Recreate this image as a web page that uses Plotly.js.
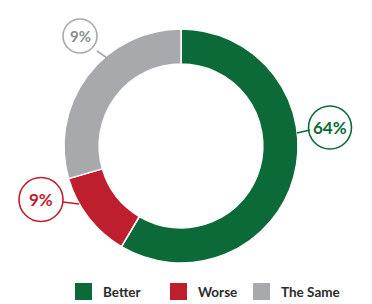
<!DOCTYPE html>
<html>
<head>
<meta charset="utf-8">
<script src="https://cdn.plot.ly/plotly-3.0.1.min.js"></script>
<style>html,body{margin:0;padding:0;background:#fff;}#chart{width:372px;height:304px;}</style>
</head>
<body>
<div id="chart"></div>
<script>
// Data
var categories = ["Better", "Worse", "The Same"];
var shares = [58.5, 12, 29.5];           // arc sizes as drawn
var labelTexts = ["64%", "9%", "9%"];    // printed callout labels
var colors = ["#0b6a37", "#be1e2d", "#a7a9ac"];

var W = 372, H = 304;
function px(x){ return x / W; }
function py(y){ return 1 - y / H; }

var cx = 181, cy = 146, R = 117;
var FONT = "Lato, Roboto, sans-serif";

var trace = {
  type: "pie",
  labels: categories,
  values: shares,
  sort: false,
  direction: "clockwise",
  rotation: 0,
  hole: 0.70,
  textinfo: "none",
  hoverinfo: "label+percent",
  marker: { colors: colors, line: { color: "#ffffff", width: 1.5 } },
  domain: { x: [px(cx - R), px(cx + R)], y: [py(cy + R), py(cy - R)] },
  showlegend: false
};

// Callout layout (positions in pixels)
var callouts = [
  { cx: 330, cy: 127.5, r: 21.5, line: [[297, 133], [310, 130]], size: 17, textColor: colors[0] },
  { cx: 41,  cy: 199.5, r: 22,   line: [[63, 202], [79, 204]],   size: 17, textColor: colors[1] },
  { cx: 80,  cy: 36,    r: 17,   line: [[97, 51], [107, 58]],    size: 15, textColor: "#8a8c8f" }
];

var shapes = [], annotations = [];
callouts.forEach(function(c, i){
  shapes.push({ type: "circle", xref: "paper", yref: "paper",
    x0: px(c.cx - c.r), x1: px(c.cx + c.r), y0: py(c.cy + c.r), y1: py(c.cy - c.r),
    line: { color: colors[i], width: 1.6 }, fillcolor: "rgba(255,255,255,1)" });
  shapes.push({ type: "line", xref: "paper", yref: "paper",
    x0: px(c.line[0][0]), y0: py(c.line[0][1]), x1: px(c.line[1][0]), y1: py(c.line[1][1]),
    line: { color: colors[i], width: 1.6 } });
  annotations.push({ xref: "paper", yref: "paper", x: px(c.cx), y: py(c.cy),
    text: "<b>" + labelTexts[i] + "</b>", showarrow: false, xanchor: "center", yanchor: "middle",
    font: { family: FONT, size: c.size, color: c.textColor } });
});

// Manual legend
var legendX = [75, 170, 253];
var legendY = 291.5, sq = 17;
categories.forEach(function(cat, i){
  shapes.push({ type: "rect", xref: "paper", yref: "paper",
    x0: px(legendX[i]), x1: px(legendX[i] + sq), y0: py(legendY + sq/2), y1: py(legendY - sq/2),
    line: { width: 0 }, fillcolor: colors[i] });
  annotations.push({ xref: "paper", yref: "paper", x: px(legendX[i] + sq + 9), y: py(legendY),
    text: "<b>" + cat + "</b>", showarrow: false, xanchor: "left", yanchor: "middle",
    font: { family: FONT, size: 13.5, color: "#2b2b2b" } });
});

var layout = {
  width: W, height: H,
  margin: { l: 0, r: 0, t: 0, b: 0 },
  paper_bgcolor: "#ffffff",
  shapes: shapes,
  annotations: annotations,
  showlegend: false
};

Plotly.newPlot("chart", [trace], layout, { displayModeBar: false, staticPlot: true });
</script>
</body>
</html>
